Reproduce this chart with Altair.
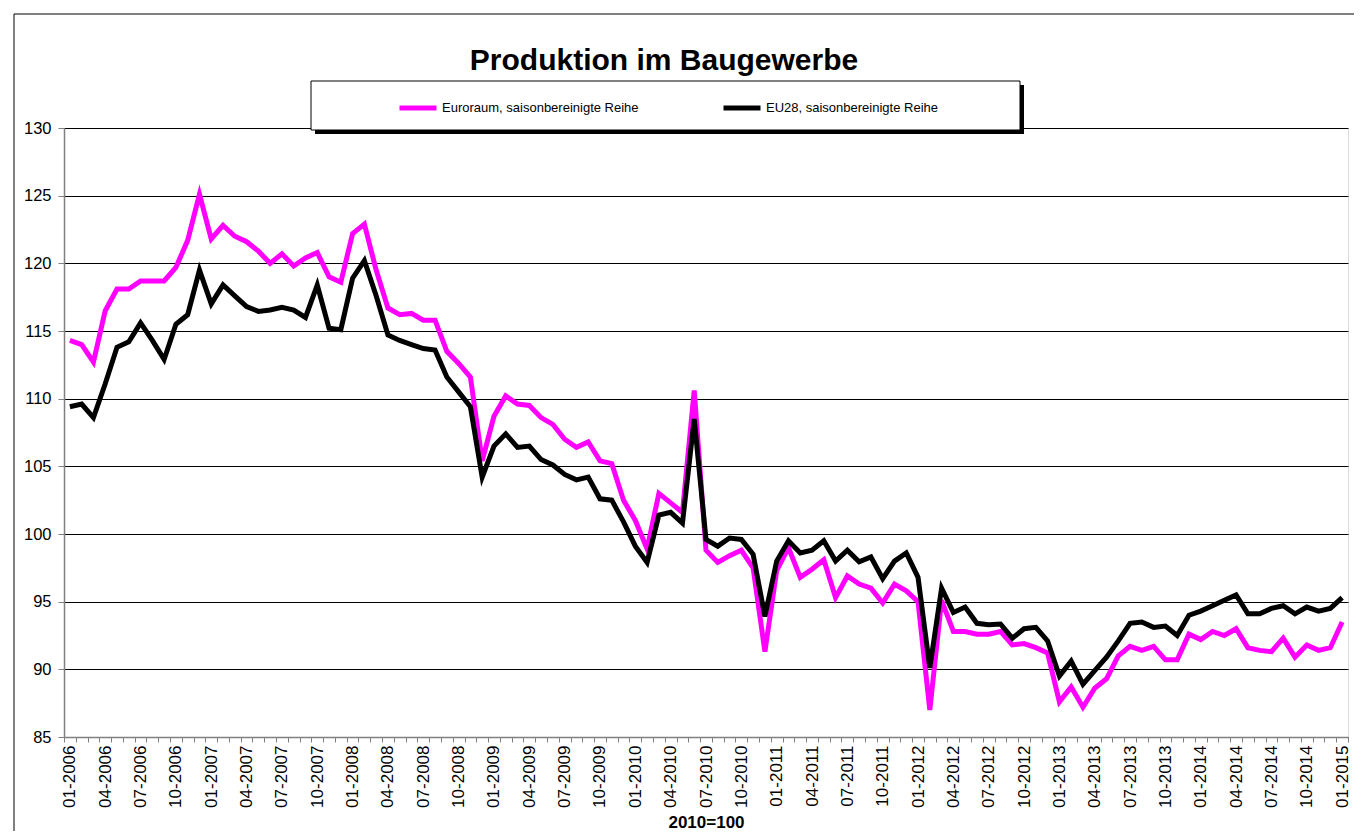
import altair as alt
import pandas as pd

years = list(range(2006, 2016))
months = [f"{m:02d}-{y}" for y in years for m in range(1, 13)][:109]

euroraum = [
    114.3, 114.0, 112.7, 116.5, 118.1, 118.1, 118.7, 118.7, 118.7, 119.7, 121.7, 125.1,
    121.8, 122.8, 122.0, 121.6, 120.9, 120.0, 120.7, 119.8, 120.4, 120.8, 119.0, 118.6,
    122.2, 122.9, 119.5, 116.7, 116.2, 116.3, 115.8, 115.8, 113.5, 112.6, 111.6, 105.4,
    108.7, 110.2, 109.6, 109.5, 108.6, 108.1, 107.0, 106.4, 106.8, 105.4, 105.2, 102.5,
    101.0, 98.9, 103.0, 102.3, 101.6, 110.6, 98.8, 97.9, 98.4, 98.8, 97.5, 91.3,
    97.3, 99.0, 96.8, 97.4, 98.1, 95.3, 96.9, 96.3, 96.0, 94.9, 96.3, 95.8,
    95.0, 87.0, 95.1, 92.8, 92.8, 92.6, 92.6, 92.8, 91.8, 91.9, 91.6, 91.2,
    87.6, 88.7, 87.2, 88.6, 89.3, 91.0, 91.7, 91.4, 91.7, 90.7, 90.7, 92.6,
    92.2, 92.8, 92.5, 93.0, 91.6, 91.4, 91.3, 92.3, 90.9, 91.8, 91.4, 91.6,
    93.5,
]

eu28 = [
    109.4, 109.6, 108.6, 111.1, 113.8, 114.2, 115.6, 114.3, 112.9, 115.5, 116.2, 119.5,
    117.0, 118.4, 117.6, 116.8, 116.45, 116.55, 116.75, 116.55, 116.0, 118.4, 115.2, 115.1,
    118.9, 120.2, 117.6, 114.7, 114.3, 114.0, 113.7, 113.6, 111.6, 110.5, 109.4, 104.2,
    106.5, 107.4, 106.4, 106.5, 105.5, 105.1, 104.4, 104.0, 104.2, 102.6, 102.5, 100.9,
    99.1, 97.9, 101.4, 101.6, 100.8, 108.5, 99.6, 99.1, 99.7, 99.6, 98.5, 93.9,
    98.0, 99.5, 98.6, 98.8, 99.5, 98.0, 98.8, 97.95, 98.3, 96.7, 98.0, 98.6,
    96.8, 90.1, 96.0, 94.2, 94.6, 93.4, 93.3, 93.35, 92.3, 93.0, 93.1, 92.1,
    89.5, 90.6, 88.9, 89.9, 90.9, 92.1, 93.4, 93.5, 93.1, 93.2, 92.5, 94.0,
    94.3, 94.7, 95.1, 95.5, 94.1, 94.1, 94.5, 94.7, 94.1, 94.6, 94.3, 94.5,
    95.3,
]

series_names = ["Euroraum, saisonbereinigte Reihe", "EU28, saisonbereinigte Reihe"]
series_colors = ["#FF00FF", "#000000"]
y_ticks = [85, 90, 95, 100, 105, 110, 115, 120, 125, 130]

df = pd.DataFrame({
    "Monat": months * 2,
    "Wert": euroraum + eu28,
    "Reihe": [series_names[0]] * len(months) + [series_names[1]] * len(months),
})

FONT = "Liberation Sans"

x_enc = alt.X(
    "Monat:O",
    sort=months,
    bandPosition=0.5,
    scale=alt.Scale(type="band", paddingInner=0, paddingOuter=0),
    axis=alt.Axis(
        title="2010=100",
        titleFont=FONT,
        titleFontSize=17,
        titleFontWeight="bold",
        titleColor="#000000",
        titlePadding=7,
        labelAngle=270,
        labelFont=FONT,
        labelFontSize=17,
        labelColor="#000000",
        labelPadding=3,
        labelOverlap=False,
        labelExpr="indexof(['01','04','07','10'], slice(datum.label, 0, 2)) >= 0 ? datum.label : ''",
        tickBand="extent",
        tickSize=5,
        tickColor="#808080",
        domainColor="#808080",
        domainWidth=1.5,
        grid=False,
    ),
)

y_enc = alt.Y(
    "Wert:Q",
    scale=alt.Scale(domain=[85, 130], nice=False, zero=False),
    axis=alt.Axis(
        title=None,
        values=y_ticks,
        grid=True,
        gridColor="#000000",
        gridWidth=1,
        labelFont=FONT,
        labelFontSize=16.5,
        labelColor="#000000",
        labelPadding=7,
        tickSize=6,
        tickColor="#808080",
        domainColor="#808080",
        domainWidth=1.5,
    ),
)

color_enc = alt.Color(
    "Reihe:N",
    scale=alt.Scale(domain=series_names, range=series_colors),
    legend=alt.Legend(
        title=None,
        orient="none",
        legendX=333,
        legendY=-41,
        direction="horizontal",
        symbolType="stroke",
        symbolSize=1369,
        symbolStrokeWidth=5,
        labelFont=FONT,
        labelFontSize=13,
        labelColor="#000000",
        labelOffset=3,
        labelLimit=400,
        columnPadding=74,
        padding=0,
    ),
)

base = alt.Chart(df).encode(x=x_enc, y=y_enc, color=color_enc)
line_euro = base.transform_filter(alt.datum.Reihe == series_names[0]).mark_line(strokeWidth=5)
line_eu28 = base.transform_filter(alt.datum.Reihe == series_names[1]).mark_line(strokeWidth=5)

one = pd.DataFrame({"k": [0]})
shadow = alt.Chart(one).mark_rect(color="#000000").encode(
    x=alt.value(251), x2=alt.value(960), y=alt.value(-43), y2=alt.value(6)
)
box = alt.Chart(one).mark_rect(fill="#FFFFFF", stroke="#000000", strokeWidth=1).encode(
    x=alt.value(247), x2=alt.value(956), y=alt.value(-47), y2=alt.value(2)
)
border_left = alt.Chart(one).mark_rule(color="#000000", strokeWidth=1).encode(
    x=alt.value(-50), y=alt.value(-114), y2=alt.value(720)
)
border_top = alt.Chart(one).mark_rule(color="#000000", strokeWidth=1).encode(
    x=alt.value(-50), x2=alt.value(1300), y=alt.value(-114)
)

chart = alt.layer(
    border_left, border_top, shadow, box, line_euro, line_eu28
).properties(
    width=1284,
    height=609,
    title=alt.TitleParams(
        text="Produktion im Baugewerbe",
        font=FONT,
        fontSize=30,
        fontWeight="bold",
        color="#000000",
        anchor="middle",
        dx=-42,
        offset=-62,
    ),
    autosize=alt.AutoSizeParams(type="none"),
    padding={"left": 56, "top": 120, "right": 6, "bottom": 94},
).configure_view(stroke=None).configure(background="#FFFFFF")

chart.save("out.html", embed_options={"renderer": "svg", "actions": False})
